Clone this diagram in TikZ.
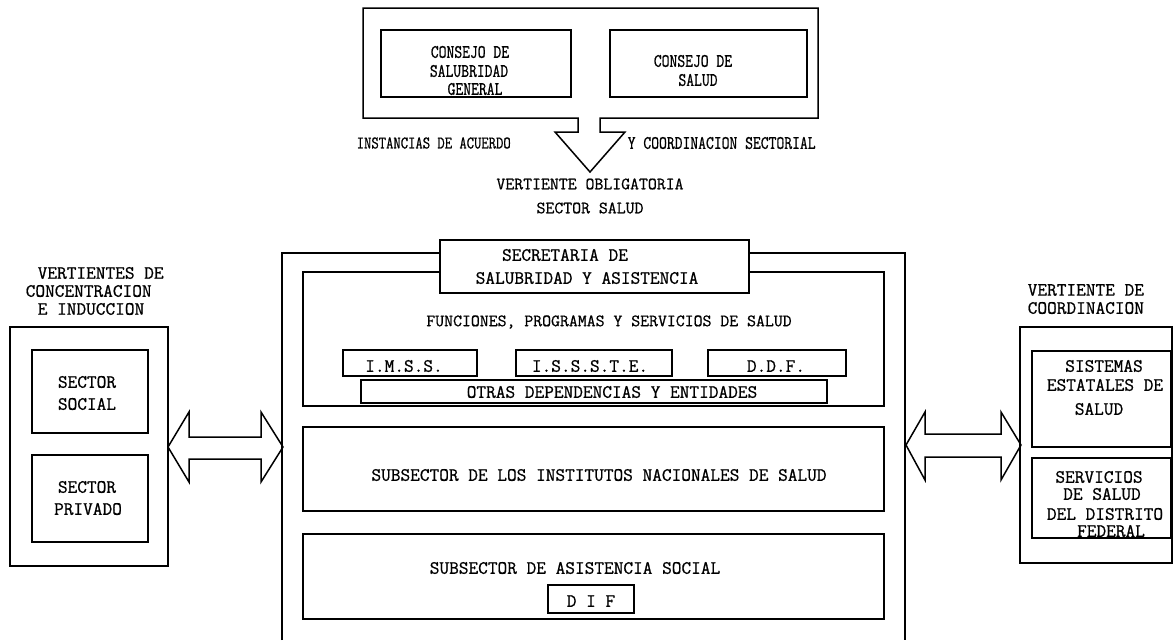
\documentclass[tikz,border=0pt]{standalone}
\usepackage{fontspec}
\newfontfamily\fA[FakeBold=0.8]{Latin Modern Mono}
\newfontfamily\fB[FakeStretch=0.8,FakeBold=0.8]{Latin Modern Mono}
\begin{document}
\begin{tikzpicture}[x=1pt,y=-1pt,line width=1.5pt,line join=miter,
  box/.style={draw,line width=1.5pt,inner sep=0pt},
  ta/.style={inner sep=0pt,font=\fA\fontsize{18.8}{20}\selectfont},
  tam/.style={inner sep=0pt,font=\fA\fontsize{17.3}{19}\selectfont},
  tb/.style={inner sep=0pt,font=\fB\fontsize{19}{20}\selectfont}]
\useasboundingbox (0,0) rectangle (1174,640);

% ---------- top block ----------
\coordinate (tip) at (590,172);
\draw (363,118) -- (363,8) -- (818,8) -- (818,118) -- (600,118) -- (600,132)
  -- (625,132) -- (tip) -- (555,132) -- (578,132) -- (578,118) -- cycle;
\node[box,minimum width=190pt,minimum height=67pt] (cgen) at (476,63.5) {};
\node[box,minimum width=197pt,minimum height=67pt] (csal) at (708.5,63.5) {};
\node[tb] (cg1) at (470,52) {CONSEJO DE};
\node[tb] (cg2) at (469,71) {SALUBRIDAD};
\node[tb] (cg3) at (475,89) {GENERAL};
\node[tb] (cs1) at (693,61) {CONSEJO DE};
\node[tb] (cs2) at (698,80) {SALUD};
\node[tb,anchor=west,font=\fB\fontsize{17.8}{19}\selectfont] (inst) at (356,143) {INSTANCIAS DE ACUERDO};
\node[tb,anchor=west,font=\fB\fontsize{19}{20}\selectfont] (coord) at (627,143) {Y COORDINACION SECTORIAL};
\node[tam] (vob) at (590,184) {VERTIENTE OBLIGATORIA};
\node[tam] (ssal) at (590,208) {SECTOR  SALUD};

% ---------- central block ----------
\draw (282,640) -- (282,253) -- (905,253) -- (905,640);
\node[box,minimum width=581pt,minimum height=134pt] (sec1) at (593.5,339) {};
\node[box,fill=white,minimum width=309pt,minimum height=53pt] (ssa) at (594.5,266.5) {};
\node[ta] (ssa1) at (565,255) {SECRETARIA DE};
\node[ta] (ssa2) at (587,278) {SALUBRIDAD Y ASISTENCIA};
\node[tam] (fun) at (609,322) {FUNCIONES, PROGRAMAS Y SERVICIOS DE SALUD};
\node[box,minimum width=134pt,minimum height=26pt] (imss) at (410,363) {};
\node[box,minimum width=156pt,minimum height=26pt] (issste) at (594,363) {};
\node[box,minimum width=138pt,minimum height=26pt] (ddf) at (777,363) {};
\node[ta] at (404,366) {I.M.S.S.};
\node[ta] at (590,366) {I.S.S.S.T.E.};
\node[ta] at (776,366) {D.D.F.};
\node[box,minimum width=466pt,minimum height=23pt] (otras) at (594,391.5) {};
\node[ta] at (612,392) {OTRAS  DEPENDENCIAS Y ENTIDADES};
\node[box,minimum width=581pt,minimum height=84pt] (sec2) at (593.5,469) {};
\node[ta] (sub1) at (599,475) {SUBSECTOR DE LOS INSTITUTOS NACIONALES DE SALUD};
\node[box,minimum width=581pt,minimum height=85pt] (sec3) at (593.5,576.5) {};
\node[ta] (sub2) at (575,568) {SUBSECTOR DE ASISTENCIA SOCIAL};
\node[box,minimum width=86pt,minimum height=28pt] (dif) at (591,599) {};
\node[ta] at (591,601) {D I F};

% ---------- left block ----------
\node[ta,anchor=west] at (37,273) {VERTIENTES DE};
\node[ta,anchor=west] at (25,291) {CONCENTRACION};
\node[ta,anchor=west] at (37,309) {E INDUCCION};
\node[box,minimum width=158pt,minimum height=239pt] (lbox) at (89,446.5) {};
\node[box,minimum width=116pt,minimum height=83pt] (soc) at (90,391.5) {};
\node[ta] at (87,382) {SECTOR};
\node[ta] at (87,404) {SOCIAL};
\node[box,minimum width=116pt,minimum height=87pt] (priv) at (90,498.5) {};
\node[ta] at (87,487) {SECTOR};
\node[ta] at (88,509) {PRIVADO};

% left double arrow
\coordinate (la) at (168,447);
\coordinate (lb) at (283,447);
\draw (la) -- ++(21,-35) -- ++(0,25) -- ++(72,0) -- ++(0,-25) -- (lb)
  -- ++(-22,35) -- ++(0,-23) -- ++(-72,0) -- ++(0,23) -- cycle;

% ---------- right block ----------
\node[ta,anchor=west] at (1027,290) {VERTIENTE DE};
\node[ta,anchor=west] at (1027,308) {COORDINACION};
\node[box,minimum width=152pt,minimum height=236pt] (rbox) at (1096,445) {};
\node[box,minimum width=139pt,minimum height=96pt] (sist) at (1101.5,399) {};
\node[ta] at (1104,366) {SISTEMAS};
\node[ta] at (1105,385) {ESTATALES DE};
\node[ta] at (1099,409) {SALUD};
\node[box,minimum width=139pt,minimum height=80pt] (serv) at (1101.5,498) {};
\node[ta] at (1099,477) {SERVICIOS};
\node[ta] at (1102,494) {DE SALUD};
\node[ta] at (1105,514) {DEL DISTRITO};
\node[ta] at (1111,531) {FEDERAL};

% right double arrow
\coordinate (ra) at (906,445);
\coordinate (rb) at (1021,445);
\draw (ra) -- ++(19,-33) -- ++(0,22) -- ++(76,0) -- ++(0,-22) -- (rb)
  -- ++(-20,35) -- ++(0,-23) -- ++(-76,0) -- ++(0,23) -- cycle;
\end{tikzpicture}
\end{document}
